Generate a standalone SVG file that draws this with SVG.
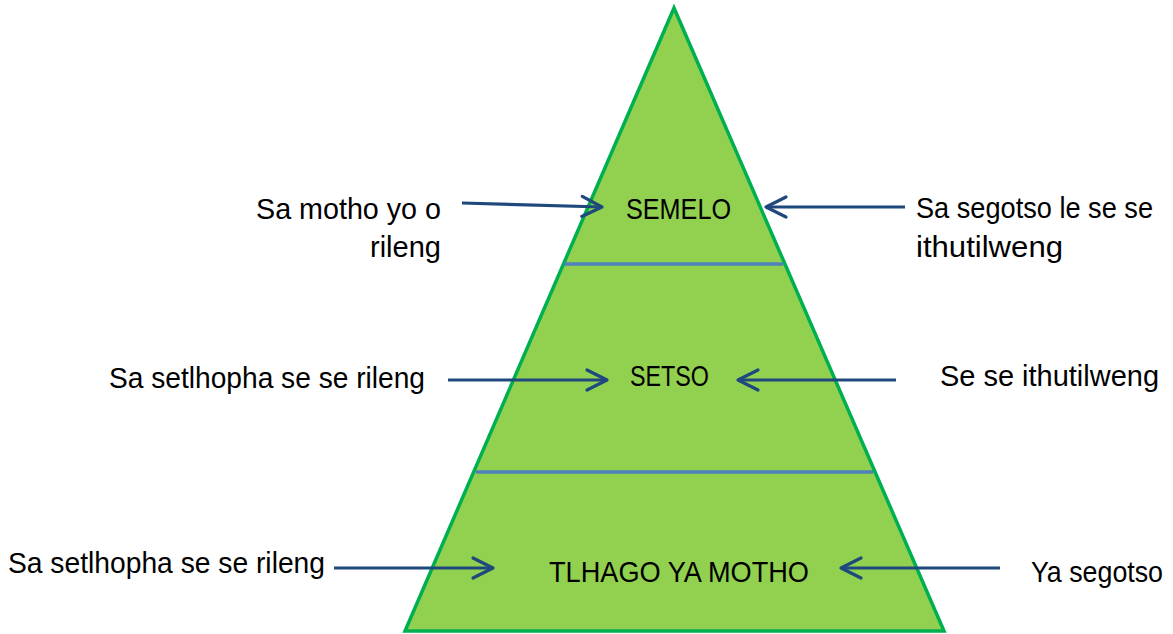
<svg xmlns="http://www.w3.org/2000/svg" width="1173" height="634" viewBox="0 0 1173 634">
<defs>
<style>
.t{font-family:"Liberation Sans",Arial,sans-serif;font-size:29px;fill:#000}
.div{stroke:#4F81BD;stroke-width:3.5;fill:none}
.arr{stroke:#1F497D;stroke-width:3.2;fill:none;marker-end:url(#ah)}
</style>
<marker id="ah" markerUnits="userSpaceOnUse" viewBox="-24 -13 27 26" refX="0" refY="0" markerWidth="27" markerHeight="26" orient="auto">
<path d="M-20,-10 L0,0 L-20,10" fill="none" stroke="#1F497D" stroke-width="3.2" stroke-linecap="round" stroke-linejoin="round"/>
</marker>
</defs>
<rect width="1173" height="634" fill="#fff"/>
<g id="pyramid">
<polygon points="674,8 405,631 944,631" fill="#92D050" stroke="#00B050" stroke-width="3.5" stroke-linejoin="miter"/>
<line class="div" x1="564" y1="264" x2="783" y2="264"/>
<line class="div" x1="476" y1="472" x2="873" y2="472"/>
</g>
<g id="semelo"><text class="t" x="626" y="219" textLength="105" lengthAdjust="spacingAndGlyphs">SEMELO</text></g>
<g id="setso"><text class="t" x="630" y="386" textLength="79" lengthAdjust="spacingAndGlyphs">SETSO</text></g>
<g id="tlhago"><text class="t" x="549" y="582" textLength="260" lengthAdjust="spacingAndGlyphs">TLHAGO YA MOTHO</text></g>
<g id="left1">
<text class="t" x="256" y="219" textLength="185" lengthAdjust="spacingAndGlyphs">Sa motho yo o</text>
<text class="t" x="370" y="257" textLength="71" lengthAdjust="spacingAndGlyphs">rileng</text>
</g>
<g id="right1">
<text class="t" x="916" y="218" textLength="237" lengthAdjust="spacingAndGlyphs">Sa segotso le se se</text>
<text class="t" x="916" y="257" textLength="147" lengthAdjust="spacingAndGlyphs">ithutilweng</text>
</g>
<g id="left2"><text class="t" x="109" y="388" textLength="316" lengthAdjust="spacingAndGlyphs">Sa setlhopha se se rileng</text></g>
<g id="right2"><text class="t" x="940" y="386" textLength="219" lengthAdjust="spacingAndGlyphs">Se se ithutilweng</text></g>
<g id="left3"><text class="t" x="8" y="573" textLength="317" lengthAdjust="spacingAndGlyphs">Sa setlhopha se se rileng</text></g>
<g id="right3"><text class="t" x="1031" y="582" textLength="132" lengthAdjust="spacingAndGlyphs">Ya segotso</text></g>
<g id="connectors">
<line class="arr" x1="462" y1="203" x2="602" y2="207"/>
<line class="arr" x1="905" y1="207" x2="766" y2="207"/>
<line class="arr" x1="448" y1="380" x2="607" y2="380"/>
<line class="arr" x1="896" y1="380" x2="738" y2="380"/>
<line class="arr" x1="334" y1="568" x2="493" y2="568"/>
<line class="arr" x1="1000" y1="568" x2="841" y2="568"/>
</g>
</svg>
